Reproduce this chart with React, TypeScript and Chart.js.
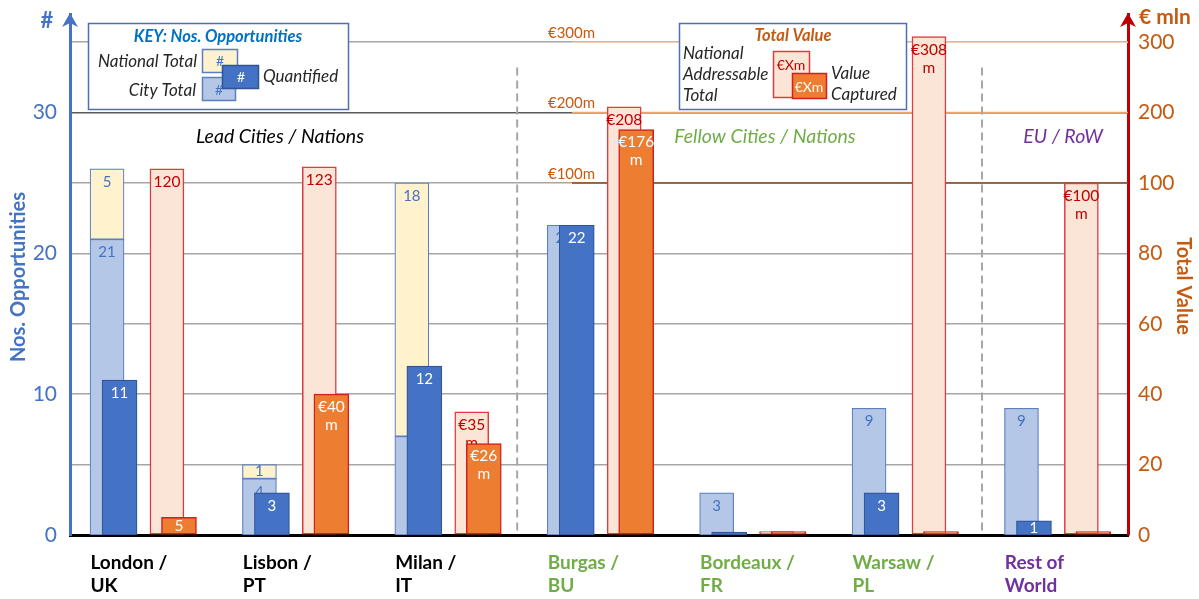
import React, { useEffect, useRef } from 'react';
import { Chart, registerables, LinearScale } from 'chart.js';

// ---------- data ----------
const CATEGORIES: string[][] = [
  ['London /', 'UK'],
  ['Lisbon /', 'PT'],
  ['Milan /', 'IT'],
  ['Burgas /', 'BU'],
  ['Bordeaux /', 'FR'],
  ['Warsaw /', 'PL'],
  ['Rest of', 'World'],
];
const CATEGORY_GROUP = [0, 0, 0, 1, 1, 1, 2];
const SECTION_TITLES = ['Lead Cities / Nations', 'Fellow Cities / Nations', 'EU / RoW'];

// opportunities (left axis)
const CITY_TOTAL = [21, 4, 7, 22, 3, 9, 9];
const NATIONAL_EXTRA = [5, 1, 18, 0, 0, 0, 0];
const QUANTIFIED = [11, 3, 12, 22, 0.2, 3, 1];

// value in € mln (right axis)
const NATIONAL_VALUE = [120, 123, 35, 208, 1, 308, 100];
const CAPTURED_VALUE = [5, 40, 26, 176, 1, 1, 1];
const NATIONAL_EURO = [false, false, true, true, true, true, true];
const CAPTURED_EURO = [false, true, true, true, true, true, true];

const LEFT_TICKS = [0, 10, 20, 30];
const RIGHT_TICKS = [0, 20, 40, 60, 80, 100, 200, 300];
const VALUE_MARKERS = [100, 200, 300];

// ---------- styling ----------
const FONT = 'Lato, "Open Sans", "DejaVu Sans", sans-serif';
const BLUE = '#4472C4';
const KEY_BLUE = '#0070C0';
const ORANGE_TEXT = '#C55A11';
const RED = '#C00000';
const GREEN = '#70AD47';
const PURPLE = '#7030A0';
const TEXT_DARK = '#262626';
const SECTION_COLORS = ['#000000', GREEN, PURPLE];
const MARKER_COLORS = ['#8A4A1E', '#F2A468', '#F8CBAD'];

// ---------- right axis: linear up to 100, compressed 5:1 above ----------
const BREAK_AT = 100;
const BREAK_RATIO = 5;
const compress = (v: number) => (v <= BREAK_AT ? v : BREAK_AT + (v - BREAK_AT) / BREAK_RATIO);
const expand = (t: number) => (t <= BREAK_AT ? t : BREAK_AT + (t - BREAK_AT) * BREAK_RATIO);

class BrokenLinearScale extends LinearScale {
  static id = 'brokenLinear';
  static defaults = LinearScale.defaults;
  getPixelForValue(value: number) {
    if (value === null || value === undefined || isNaN(value)) return NaN;
    const lo = compress(this.min);
    const hi = compress(this.max);
    return this.getPixelForDecimal((compress(value) - lo) / (hi - lo));
  }
  getValueForPixel(pixel: number) {
    const lo = compress(this.min);
    const hi = compress(this.max);
    return expand(lo + this.getDecimalForPixel(pixel) * (hi - lo));
  }
}

Chart.register(...registerables, BrokenLinearScale);

const LEFT_MAX = 37;
const RIGHT_MAX = expand(LEFT_MAX * 4);

// horizontal layout in category units
const X_MIN = -0.479;
const X_MAX = 6.463;
const CITY_X = -0.236;
const QUANT_X = -0.154;
const NATV_X = 0.157;
const CAPT_X = 0.236;
const LABEL_X = -0.345;

const pts = (vals: number[], dx: number) =>
  vals.map((v, i) => ({ x: i + dx, y: v > 0 ? v : null }));

type LabelSpec = { values: number[]; color: string; size: number; min: number; euro: boolean[] | null };
const LABEL_SPECS: Record<string, LabelSpec> = {
  city: { values: CITY_TOTAL, color: BLUE, size: 15, min: 1, euro: null },
  national: { values: NATIONAL_EXTRA, color: BLUE, size: 15, min: 1, euro: null },
  quantified: { values: QUANTIFIED, color: '#FFFFFF', size: 15, min: 1, euro: null },
  value: { values: NATIONAL_VALUE, color: RED, size: 15.5, min: 5, euro: NATIONAL_EURO },
  captured: { values: CAPTURED_VALUE, color: '#FFFFFF', size: 15.5, min: 5, euro: CAPTURED_EURO },
};

function text(
  ctx: CanvasRenderingContext2D,
  s: string,
  x: number,
  y: number,
  font: string,
  color: string,
  align: CanvasTextAlign = 'left'
) {
  ctx.font = font;
  ctx.fillStyle = color;
  ctx.textAlign = align;
  ctx.textBaseline = 'middle';
  ctx.fillText(s, x, y);
}

function swatch(ctx: CanvasRenderingContext2D, x: number, y: number, w: number, h: number, fill: string, stroke: string) {
  ctx.fillStyle = fill;
  ctx.fillRect(x, y, w, h);
  ctx.strokeStyle = stroke;
  ctx.lineWidth = 1.5;
  ctx.strokeRect(x + 0.5, y + 0.5, w - 1, h - 1);
}

function arrowHead(ctx: CanvasRenderingContext2D, x: number, tipY: number, color: string) {
  ctx.fillStyle = color;
  ctx.beginPath();
  ctx.moveTo(x, tipY);
  ctx.lineTo(x + 8, tipY + 14);
  ctx.lineTo(x, tipY + 10);
  ctx.lineTo(x - 8, tipY + 14);
  ctx.closePath();
  ctx.fill();
}

const decorPlugin = {
  id: 'decor',
  beforeDatasetsDraw(chart: any) {
    const { ctx, chartArea } = chart;
    const xs = chart.scales.x;
    const yl = chart.scales.y;
    const yr = chart.scales.y1;
    ctx.save();
    // coloured value markers on the right-hand part of the plot
    VALUE_MARKERS.forEach((v, k) => {
      const py = yr.getPixelForValue(v);
      ctx.strokeStyle = MARKER_COLORS[k];
      ctx.lineWidth = 1.5;
      ctx.beginPath();
      ctx.moveTo(xs.getPixelForValue(2.815), py);
      ctx.lineTo(chartArea.right, py);
      ctx.stroke();
      text(ctx, `€${v}m`, xs.getPixelForValue(2.657), py - 9, `15px ${FONT}`, ORANGE_TEXT, 'left');
    });
    // dashed separators between the city groups
    ctx.strokeStyle = '#A6A6A6';
    ctx.lineWidth = 2;
    ctx.setLineDash([8, 5]);
    [2.455, 5.505].forEach((sx) => {
      const px = xs.getPixelForValue(sx);
      ctx.beginPath();
      ctx.moveTo(px, yl.getPixelForValue(33.2));
      ctx.lineTo(px, chartArea.bottom);
      ctx.stroke();
    });
    ctx.setLineDash([]);
    ctx.restore();
  },
  afterDatasetDraw(chart: any, args: any) {
    const ds = chart.data.datasets[args.index];
    const spec = LABEL_SPECS[ds.kind];
    if (!spec) return;
    const ctx = chart.ctx;
    ctx.save();
    args.meta.data.forEach((el: any, i: number) => {
      const v = spec.values[i];
      if (!(v >= spec.min)) return;
      const lines = spec.euro && spec.euro[i] ? [`€${v}`, 'm'] : [String(v)];
      const top = Math.min(el.y, el.base);
      const bottom = Math.max(el.y, el.base);
      const cy = Math.min(top + 13, (top + bottom) / 2);
      lines.forEach((t, k) => text(ctx, t, el.x, cy + k * 18, `${spec.size}px ${FONT}`, spec.color, 'center'));
    });
    ctx.restore();
  },
  afterDraw(chart: any) {
    const { ctx, chartArea } = chart;
    const xs = chart.scales.x;
    const yl = chart.scales.y;
    ctx.save();

    // axis arrows
    arrowHead(ctx, chartArea.left, chartArea.top - 1, BLUE);
    arrowHead(ctx, chartArea.right, chartArea.top - 1, RED);

    // section titles
    [0.899, 4.081, 6.037].forEach((cx, k) => {
      text(ctx, SECTION_TITLES[k], xs.getPixelForValue(cx), yl.getPixelForValue(28.3), `italic 19.5px ${FONT}`, SECTION_COLORS[k], 'center');
    });

    // axis titles
    text(ctx, '#', 47, 21, `bold 22px ${FONT}`, BLUE, 'center');
    ctx.save();
    ctx.translate(19, 277);
    ctx.rotate(-Math.PI / 2);
    text(ctx, 'Nos. Opportunities', 0, 0, `bold 20px ${FONT}`, BLUE, 'center');
    ctx.restore();
    text(ctx, '€ mln', 1139, 17, `bold 21px ${FONT}`, ORANGE_TEXT, 'left');
    ctx.save();
    ctx.translate(1183, 286);
    ctx.rotate(Math.PI / 2);
    text(ctx, 'Total Value', 0, 0, `bold 20px ${FONT}`, ORANGE_TEXT, 'center');
    ctx.restore();

    // key: opportunities
    ctx.fillStyle = '#FFFFFF';
    ctx.fillRect(88, 23, 260, 86);
    ctx.strokeStyle = '#4F6FAF';
    ctx.lineWidth = 1.5;
    ctx.strokeRect(88.5, 23.5, 260, 86);
    text(ctx, 'KEY: Nos. Opportunities', 218, 37, `italic bold 16.5px ${FONT}`, KEY_BLUE, 'center');
    text(ctx, 'National Total', 197, 62, `italic 17px ${FONT}`, TEXT_DARK, 'right');
    text(ctx, 'City Total', 196, 91, `italic 17px ${FONT}`, TEXT_DARK, 'right');
    text(ctx, 'Quantified', 263, 77, `italic 17px ${FONT}`, TEXT_DARK, 'left');
    swatch(ctx, 202, 49, 36, 24, '#FFF2CC', '#5B7FC0');
    text(ctx, '#', 220, 61, `14px ${FONT}`, BLUE, 'center');
    swatch(ctx, 202, 77, 34, 24, '#B4C7E7', '#5B7FC0');
    text(ctx, '#', 219, 90, `14px ${FONT}`, BLUE, 'center');
    swatch(ctx, 222, 65, 37, 24, BLUE, '#2F5597');
    text(ctx, '#', 241, 77, `14px ${FONT}`, '#FFFFFF', 'center');

    // key: total value
    ctx.fillStyle = '#FFFFFF';
    ctx.fillRect(679, 23, 227, 86);
    ctx.strokeStyle = '#4F6FAF';
    ctx.lineWidth = 1.5;
    ctx.strokeRect(679.5, 23.5, 227, 86);
    text(ctx, 'Total Value', 793, 36, `italic bold 16.5px ${FONT}`, ORANGE_TEXT, 'center');
    text(ctx, 'National', 683, 54, `italic 17px ${FONT}`, TEXT_DARK, 'left');
    text(ctx, 'Addressable', 683, 75, `italic 17px ${FONT}`, TEXT_DARK, 'left');
    text(ctx, 'Total', 683, 96, `italic 17px ${FONT}`, TEXT_DARK, 'left');
    swatch(ctx, 773, 51, 37, 47, '#FBE5D6', '#E0393E');
    text(ctx, '€Xm', 791, 65, `14px ${FONT}`, RED, 'center');
    swatch(ctx, 792, 73, 35, 26, '#ED7D31', '#D02020');
    text(ctx, '€Xm', 809, 87, `14px ${FONT}`, '#FFFFFF', 'center');
    text(ctx, 'Value', 831, 74, `italic 17px ${FONT}`, TEXT_DARK, 'left');
    text(ctx, 'Captured', 831, 95, `italic 17px ${FONT}`, TEXT_DARK, 'left');

    ctx.restore();
  },
};

export default function App() {
  const canvasRef = useRef<HTMLCanvasElement | null>(null);

  useEffect(() => {
    const canvas = canvasRef.current;
    if (!canvas) return;

    const barBase = { grouped: false, borderSkipped: false as const };

    const chart = new Chart(canvas, {
      type: 'bar',
      data: {
        datasets: [
          {
            ...barBase,
            kind: 'city',
            label: 'City Total',
            data: pts(CITY_TOTAL, CITY_X),
            xAxisID: 'x',
            yAxisID: 'y',
            stack: 'nos',
            backgroundColor: '#B4C7E7',
            borderColor: '#5B7FC0',
            borderWidth: 1.2,
            barThickness: 34,
            order: 5,
          },
          {
            ...barBase,
            kind: 'national',
            label: 'National Total',
            data: pts(NATIONAL_EXTRA, CITY_X),
            xAxisID: 'x',
            yAxisID: 'y',
            stack: 'nos',
            backgroundColor: '#FFF2CC',
            borderColor: '#5B7FC0',
            borderWidth: 1.2,
            barThickness: 34,
            order: 5,
          },
          {
            ...barBase,
            kind: 'quantified',
            label: 'Quantified',
            data: pts(QUANTIFIED, QUANT_X),
            xAxisID: 'x',
            yAxisID: 'y',
            stack: 'quant',
            backgroundColor: BLUE,
            borderColor: '#2F5597',
            borderWidth: 1.2,
            barThickness: 35,
            order: 4,
          },
          {
            ...barBase,
            kind: 'value',
            label: 'National Addressable Total',
            data: pts(NATIONAL_VALUE, NATV_X),
            xAxisID: 'x',
            yAxisID: 'y1',
            stack: 'value',
            backgroundColor: '#FBE5D6',
            borderColor: '#E0393E',
            borderWidth: 1.5,
            barThickness: 34,
            order: 3,
          },
          {
            ...barBase,
            kind: 'captured',
            label: 'Value Captured',
            data: pts(CAPTURED_VALUE, CAPT_X),
            xAxisID: 'x',
            yAxisID: 'y1',
            stack: 'captured',
            backgroundColor: '#ED7D31',
            borderColor: '#D02020',
            borderWidth: 1.5,
            barThickness: 35,
            order: 2,
          },
        ] as any,
      },
      options: {
        responsive: false,
        animation: false,
        devicePixelRatio: 1,
        layout: { padding: { top: 14, left: 0, right: 0, bottom: 0 } },
        plugins: { legend: { display: false }, tooltip: { enabled: false } },
        scales: {
          x: {
            type: 'linear',
            min: X_MIN,
            max: X_MAX,
            offset: false,
            afterBuildTicks: (s: any) => {
              s.ticks = CATEGORIES.map((_, i) => ({ value: i + LABEL_X }));
            },
            afterFit: (s: any) => {
              s.height = 64;
              s.paddingLeft = 0;
              s.paddingRight = 0;
            },
            ticks: {
              autoSkip: false,
              maxRotation: 0,
              minRotation: 0,
              align: 'start',
              padding: 16,
              callback: (_v: any, i: number) => CATEGORIES[i],
              color: (c: any) => SECTION_COLORS[CATEGORY_GROUP[c.index] ?? 0],
              font: { family: FONT, size: 19, weight: 'bold', lineHeight: 1.22 },
            },
            grid: { display: false, drawTicks: false, offset: false },
            border: { color: '#000000', width: 3 },
          },
          y: {
            type: 'linear',
            position: 'left',
            stacked: true,
            min: 0,
            max: LEFT_MAX,
            afterBuildTicks: (s: any) => {
              s.ticks = LEFT_TICKS.map((value) => ({ value }));
            },
            afterFit: (s: any) => {
              s.width = 70;
              s.paddingTop = 0;
              s.paddingBottom = 0;
            },
            ticks: {
              padding: 13,
              color: BLUE,
              font: { family: FONT, size: 21 },
              callback: (v: any) => String(v),
            },
            grid: { display: false, drawTicks: false },
            border: { color: BLUE, width: 3 },
          },
          y1: {
            type: 'brokenLinear' as any,
            position: 'right',
            min: 0,
            max: RIGHT_MAX,
            afterBuildTicks: (s: any) => {
              s.ticks = RIGHT_TICKS.map((value) => ({ value }));
            },
            afterFit: (s: any) => {
              s.width = 71;
              s.paddingTop = 0;
              s.paddingBottom = 0;
            },
            ticks: {
              padding: 10,
              color: ORANGE_TEXT,
              font: { family: FONT, size: 21 },
              callback: (v: any) => String(v),
            },
            grid: {
              display: true,
              drawTicks: false,
              lineWidth: 1.5,
              color: (c: any) => (c.tick && c.tick.value === 200 ? '#595959' : '#A6A6A6'),
            },
            border: { color: RED, width: 3 },
          } as any,
        },
      },
      plugins: [decorPlugin],
    });

    return () => chart.destroy();
  }, []);

  return (
    <div style={{ position: 'fixed', left: 0, top: 0, width: 1199, height: 599, background: '#FFFFFF' }}>
      <canvas ref={canvasRef} width={1199} height={599} style={{ display: 'block' }} />
    </div>
  );
}
